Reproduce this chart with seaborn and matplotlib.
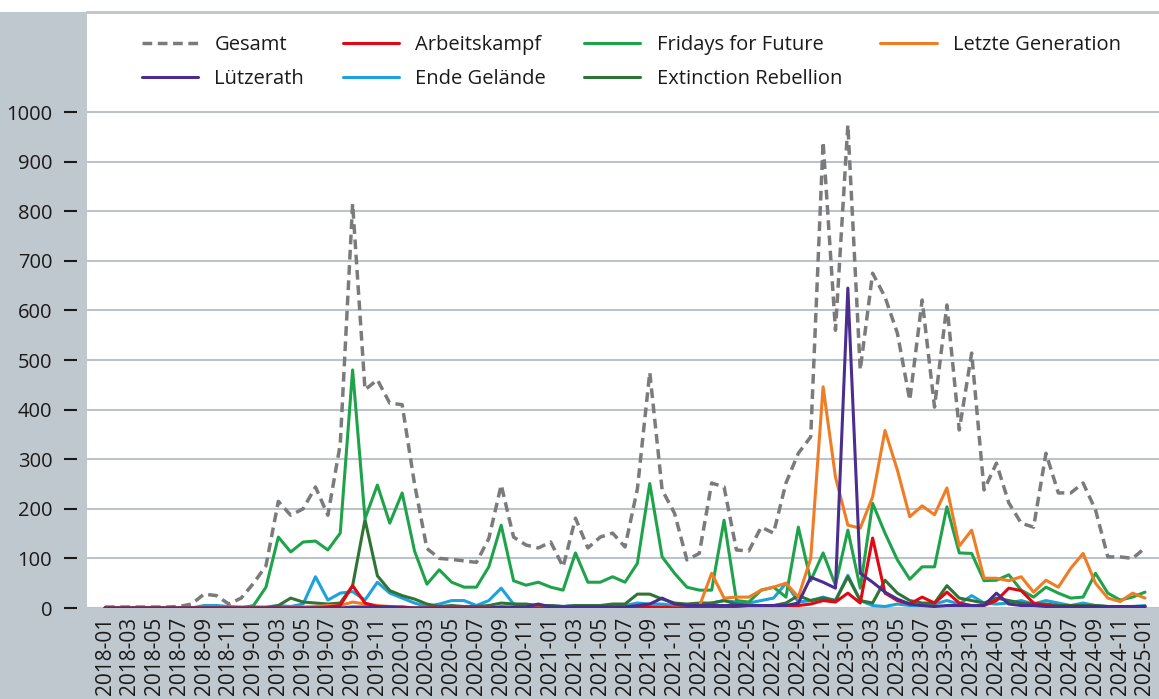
import matplotlib
matplotlib.use("Agg")
import matplotlib.pyplot as plt
import pandas as pd
import seaborn as sns
from matplotlib.patches import Rectangle

# monthly counts, 2018-01 .. 2025-01
months = pd.date_range("2018-01-01", "2025-01-01", freq="MS").strftime("%Y-%m").tolist()

gesamt = [
    2, 2, 2, 2, 2, 2, 3, 8, 28, 25, 8, 20,
    50, 85, 215, 187, 200, 244, 187, 330, 815, 440, 460, 413,
    410, 250, 120, 100, 98, 95, 92, 140, 248, 143, 127, 121,
    133, 83, 181, 121, 143, 151, 123, 240, 475, 238, 191, 97,
    110, 252, 244, 117, 115, 163, 151, 252, 312, 345, 940, 560,
    974, 480, 675, 627, 554, 419, 621, 405, 611, 359, 514, 238,
    292, 212, 171, 163, 312, 232, 232, 252, 198, 103, 103, 100,
    121,
]
arbeitskampf = [
    0, 0, 0, 0, 0, 0, 0, 0, 0, 0, 0, 0,
    0, 0, 0, 0, 0, 0, 2, 5, 45, 10, 3, 2,
    2, 0, 0, 0, 0, 0, 0, 0, 2, 0, 0, 0,
    0, 0, 0, 0, 0, 0, 0, 2, 2, 2, 0, 0,
    2, 2, 3, 3, 5, 5, 5, 5, 5, 8, 15, 12,
    30, 10, 141, 30, 15, 8, 22, 10, 32, 10, 5, 5,
    15, 40, 35, 10, 5, 3, 3, 3, 3, 2, 2, 2,
    2,
]
fridays = [
    0, 0, 0, 0, 0, 0, 0, 0, 0, 0, 0, 0,
    5, 42, 143, 113, 133, 135, 117, 151, 480, 180, 248, 171,
    232, 115, 48, 77, 52, 42, 42, 83, 167, 55, 46, 52,
    42, 36, 111, 52, 52, 63, 52, 90, 251, 103, 70, 42,
    36, 36, 177, 15, 12, 36, 42, 22, 163, 55, 111, 46,
    157, 40, 211, 151, 97, 58, 83, 83, 204, 111, 110, 55,
    56, 67, 36, 22, 42, 30, 20, 22, 70, 30, 16, 22,
    32,
]
letzte_gen = [
    0, 0, 0, 0, 0, 0, 0, 0, 0, 0, 0, 0,
    0, 0, 0, 0, 2, 3, 5, 5, 12, 8, 5, 3,
    2, 0, 0, 0, 0, 0, 0, 0, 0, 0, 0, 0,
    0, 0, 0, 0, 0, 0, 0, 0, 0, 0, 0, 0,
    3, 70, 20, 22, 22, 36, 42, 50, 22, 100, 446, 264,
    167, 161, 224, 358, 278, 184, 206, 188, 242, 125, 157, 60,
    60, 55, 63, 32, 56, 42, 80, 110, 50, 20, 13, 30,
    20,
]
luetzerath = [
    0, 0, 0, 0, 0, 0, 0, 0, 0, 0, 0, 0,
    0, 0, 0, 0, 0, 0, 0, 0, 2, 2, 2, 2,
    0, 0, 0, 0, 0, 0, 0, 0, 2, 2, 2, 8,
    2, 2, 2, 2, 2, 2, 2, 5, 8, 20, 8, 5,
    5, 5, 5, 5, 5, 5, 5, 5, 10, 62, 52, 40,
    645, 70, 52, 32, 18, 8, 5, 3, 5, 5, 5, 5,
    30, 8, 5, 5, 3, 3, 3, 3, 3, 3, 3, 3,
    3,
]
ende_gelaende = [
    0, 0, 0, 0, 0, 0, 0, 0, 5, 5, 3, 2,
    2, 2, 5, 3, 8, 63, 16, 30, 33, 16, 52, 30,
    20, 10, 3, 8, 15, 15, 5, 15, 40, 8, 5, 5,
    5, 3, 5, 3, 3, 3, 5, 10, 8, 8, 5, 5,
    5, 10, 15, 12, 10, 15, 20, 50, 12, 15, 22, 15,
    66, 15, 5, 3, 8, 5, 5, 8, 15, 8, 25, 10,
    8, 10, 15, 8, 15, 10, 5, 10, 5, 3, 3, 3,
    5,
]
extinction = [
    0, 0, 0, 0, 0, 0, 0, 0, 0, 0, 0, 0,
    0, 0, 5, 20, 12, 10, 8, 10, 45, 178, 65, 35,
    25, 18, 8, 3, 5, 3, 3, 5, 10, 8, 8, 5,
    5, 3, 5, 5, 5, 8, 8, 28, 28, 18, 10, 8,
    10, 10, 15, 8, 5, 5, 5, 10, 25, 15, 20, 15,
    63, 15, 10, 56, 30, 15, 10, 10, 45, 20, 15, 10,
    20, 15, 10, 8, 8, 5, 5, 5, 5, 3, 3, 3,
    3,
]

STRIP = "#c0c8cf"
GRID = "#bcc3ca"
FONT = ["Open Sans", "DejaVu Sans"]

sns.set_theme(style="white")
plt.rcParams["font.family"] = FONT

fig = plt.figure(figsize=(11.59, 6.99), dpi=100)
fig.patch.set_facecolor("white")
fig.patches.append(Rectangle((0, 0), 1, 1 - 12 / 699, transform=fig.transFigure,
                             facecolor=STRIP, edgecolor="none", zorder=-10))
ax = fig.add_axes([87 / 1159, 91 / 699, 1072 / 1159, 596 / 699])
ax.set_facecolor("white")

x = list(range(len(months)))
series = [
    ("Gesamt", gesamt, "#7b7b7b"),
    ("Ende Gelände", ende_gelaende, "#1ea2dd"),
    ("Extinction Rebellion", extinction, "#2f7434"),
    ("Fridays for Future", fridays, "#1fa34a"),
    ("Letzte Generation", letzte_gen, "#f07c24"),
    ("Arbeitskampf", arbeitskampf, "#e30613"),
    ("Lützerath", luetzerath, "#4b2d8f"),
]
lines = {}
for name, vals, color in series:
    kw = dict(linewidth=2.2)
    if name == "Gesamt":
        kw = dict(linewidth=2.5, linestyle=(0, (2.8, 1.6)))
    sns.lineplot(x=x, y=vals, ax=ax, color=color, legend=False, **kw)
    line = ax.get_lines()[-1]
    line.set_label(name)
    lines[name] = line

ax.set_xlim(-18 / 12.38, 84 + 14 / 12.38)
ax.set_ylim(0, 596 / 0.496)
ax.set_yticks(range(0, 1001, 100))
ax.set_xticks(x[::2])
ax.set_xticklabels(months[::2])
ax.set_xlabel("")
ax.set_ylabel("")
ax.yaxis.grid(True, color=GRID, linewidth=1.5)
ax.xaxis.grid(False)
ax.set_axisbelow(True)

for side in ["left", "right", "bottom"]:
    ax.spines[side].set_visible(False)
ax.spines["top"].set_color(GRID)
ax.spines["top"].set_linewidth(2)
ax.spines["left"].set_position(("outward", 7))

ax.tick_params(axis="y", direction="out", length=9.4, width=1.5, color="#1a1a1a",
               pad=8.6, labelsize=14.5, labelcolor="#1a1a1a", left=True)
ax.tick_params(axis="x", length=0, pad=6.5, labelsize=15, labelrotation=90,
               labelcolor="#1a1a1a")

order = ["Gesamt", "Lützerath", "Arbeitskampf", "Ende Gelände",
         "Fridays for Future", "Extinction Rebellion", "Letzte Generation"]
ax.legend([lines[n] for n in order], order, ncol=4, frameon=False,
          loc="upper left", bbox_to_anchor=(142 / 1159, 1 - 35 / 699),
          bbox_transform=fig.transFigure, borderpad=0, borderaxespad=0,
          fontsize=14.5, handlelength=2.8, handletextpad=0.8,
          columnspacing=1.9, labelspacing=0.7, labelcolor="#1a1a1a")

fig.savefig("out.png", dpi=100, facecolor=fig.get_facecolor())
